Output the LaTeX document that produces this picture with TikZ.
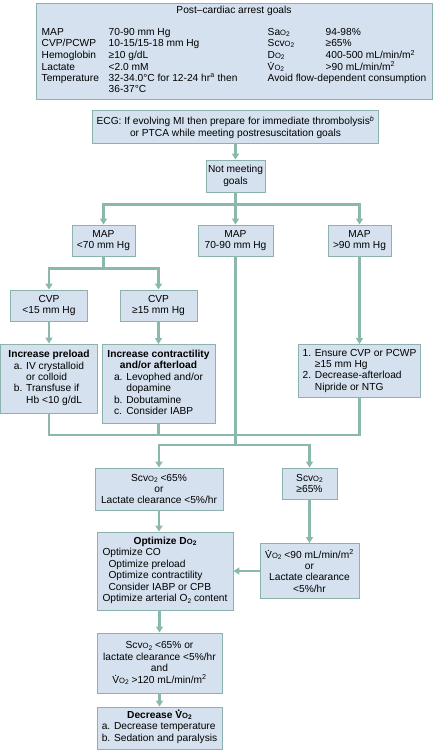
\documentclass[tikz,border=0pt]{standalone}
\usepackage{fontspec}
\setmainfont{Liberation Sans}
\usepackage{xcolor}
\usetikzlibrary{arrows.meta, calc}

\definecolor{boxfill}{RGB}{213,225,238}
\definecolor{boxedge}{RGB}{140,178,174}
\definecolor{linkteal}{RGB}{138,184,172}

\newcommand{\flowfont}{\fontsize{10.2pt}{11.4pt}\selectfont}
\newcommand{\Otwo}{{\fontsize{7.6pt}{8pt}\selectfont O\raisebox{-0.3ex}{\fontsize{6.6pt}{7pt}\selectfont 2}}}
\newcommand{\Vdot}{\mbox{\ooalign{V\cr\hidewidth\raisebox{0.68em}{.}\hidewidth\cr}}}

\tikzset{
    box/.style={draw=boxedge, fill=boxfill, line width=0.9pt, inner sep=0pt,
        align=center, font=\flowfont},
    link/.style={draw=linkteal, line width=2.2pt},
}

\begin{document}
\begin{tikzpicture}[x=1pt, y=-1pt, >={Triangle[length=6pt, width=7pt]}]

    \useasboundingbox (0,0) rectangle (434,750);

    % =================================================================
    % 1. GOALS AND ECG
    % =================================================================
    \node[box, minimum width=396pt, minimum height=96pt] (goals) at (234,51) {%
        \fontsize{10.2pt}{11pt}\selectfont
        \begin{tabular}{@{}p{67pt}@{}p{159pt}@{}p{58pt}@{}l@{}}
        \multicolumn{4}{c}{Post–cardiac arrest goals}\\[11pt]
        MAP & 70-90 mm Hg & Sa\Otwo & 94-98\%\\
        CVP/PCWP & 10-15/15-18 mm Hg & Scv\Otwo & ≥65\%\\
        Hemoglobin & ≥10 g/dL & D\Otwo & 400-500 mL/min/m\textsuperscript{2}\\
        Lactate & <2.0 mM & \Vdot\Otwo & >90 mL/min/m\textsuperscript{2}\\
        Temperature & 32-34.0°C for 12-24 hr\textsuperscript{a} then
            & \multicolumn{2}{@{}l@{}}{Avoid flow-dependent consumption}\\
        & 36-37°C & & \\
        \end{tabular}};

    \node[box, minimum width=286pt, minimum height=33pt] (ecg) at (235.5,127)
        {ECG: If evolving MI then prepare for immediate thrombolysis\textsuperscript{\itshape b}\\
         or PTCA while meeting postresuscitation goals};

    \node[box, minimum width=59pt, minimum height=32pt] (notmet) at (235.5,176)
        {Not meeting\\ goals};

    % =================================================================
    % 2. MAP AND CVP
    % =================================================================
    \node[box, minimum width=63pt, minimum height=31pt] (mapL) at (103.5,240.5) {MAP\\ <70 mm Hg};
    \node[box, minimum width=75pt, minimum height=31pt] (mapM) at (235.5,240.5) {MAP\\ 70-90 mm Hg};
    \node[box, minimum width=63pt, minimum height=31pt] (mapH) at (359.5,240.5) {MAP\\ >90 mm Hg};

    \node[box, minimum width=77pt, minimum height=31pt] (cvpL) at (49,305.5) {CVP\\ <15 mm Hg};
    \node[box, minimum width=77pt, minimum height=31pt] (cvpH) at (158.5,305.5) {CVP\\ ≥15 mm Hg};

    % =================================================================
    % 3. TREATMENT BOXES
    % =================================================================
    \node[box, minimum width=97pt, minimum height=69pt] (preload) at (49,378.5)
        {\textbf{Increase preload}\\
         \begin{tabular}[t]{@{}l@{ }l@{}}
         a. & IV crystalloid\\ & or colloid\\ b. & Transfuse if\\ & Hb <10 g/dL
         \end{tabular}};

    \node[box, minimum width=113pt, minimum height=79pt] (contract) at (158.5,384)
        {\textbf{Increase contractility}\\ \textbf{and/or afterload}\\
         \begin{tabular}[t]{@{}l@{ }l@{}}
         a. & Levophed and/or\\ & dopamine\\ b. & Dobutamine\\ c. & Consider IABP
         \end{tabular}};

    \node[box, minimum width=122pt, minimum height=53pt] (afterload) at (359.5,371)
        {\begin{tabular}[t]{@{}l@{ }l@{}}
         1. & Ensure CVP or PCWP\\ & ≥15 mm Hg\\ 2. & Decrease-afterload\\ & Nipride or NTG
         \end{tabular}};

    % =================================================================
    % 4. OXYGEN BALANCE
    % =================================================================
    \node[box, minimum width=128pt, minimum height=42pt] (scvLow) at (159,489)
        {Scv\Otwo{} <65\%\\ or\\ Lactate clearance <5\%/hr};
    \node[box, minimum width=55pt, minimum height=31pt] (scvHigh) at (309.5,483.5)
        {Scv\Otwo\\ ≥65\%};

    \node[box, minimum width=136pt, minimum height=78pt] (optdo) at (165,571)
        {\textbf{Optimize D\Otwo}\\
         \begin{tabular}[t]{@{}l@{}}
         Optimize CO\\ \hspace{6pt}Optimize preload\\ \hspace{6pt}Optimize contractility\\
         \hspace{6pt}Consider IABP or CPB\\ Optimize arterial O\raisebox{-0.3ex}{\fontsize{6.6pt}{7pt}\selectfont 2} content
         \end{tabular}};

    \node[box, minimum width=99pt, minimum height=55pt] (vodef) at (309.5,571)
        {\Vdot\Otwo{} <90 mL/min/m\textsuperscript{2}\\ or\\ Lactate clearance\\ <5\%/hr};

    \node[box, minimum width=125pt, minimum height=60pt] (recheck) at (159.5,663)
        {Scv\Otwo{} <65\% or\\ lactate clearance <5\%/hr\\ and\\
         \Vdot\Otwo{} >120 mL/min/m\textsuperscript{2}};

    \node[box, minimum width=125pt, minimum height=42pt] (decvo) at (159.5,728)
        {\textbf{Decrease \Vdot\Otwo}\\
         \begin{tabular}[t]{@{}l@{}}
         a. Decrease temperature\\ b. Sedation and paralysis
         \end{tabular}};

    % =================================================================
    % 5. CONNECTORS
    % =================================================================
    \coordinate (s1) at ($(notmet.south)+(0,12)$);
    \coordinate (s2) at ($(mapL.south)+(0,12)$);
    \coordinate (j1) at (mapM.south |- 0,435);
    \coordinate (s3) at (mapM.south |- 0,445);

    \draw[link, ->] (ecg) -- (notmet);
    \draw[link] (notmet.south) -- (s1);
    \draw[link, ->] (s1) -| (mapL.north);
    \draw[link, ->] (s1) -| (mapH.north);
    \draw[link, ->] (s1) -- (mapM.north);

    \draw[link] (mapL.south) -- (s2);
    \draw[link, ->] (s2) -| (cvpL.north);
    \draw[link, ->] (s2) -| (cvpH.north);
    \draw[link, ->] (cvpL) -- (preload);
    \draw[link, ->] (cvpH) -- (contract);
    \draw[link, ->] (mapH) -- (afterload);

    % Collecting line
    \draw[link] (preload.south) |- (afterload.south |- j1) -- (afterload.south);
    \draw[link] (contract.south) -- (contract.south |- j1);
    \draw[link] (mapM.south) -- (s3);
    \draw[link, ->] (s3) -| (scvLow.north);
    \draw[link, ->] (s3) -| (scvHigh.north);

    \draw[link, ->] (scvLow.south) -- (scvLow.south |- optdo.north);
    \draw[link, ->] (scvHigh) -- (vodef);
    \draw[link, ->] (vodef) -- (optdo);
    \draw[link, ->] (optdo.south -| recheck.north) -- (recheck.north);
    \draw[link, ->] (recheck) -- (decvo);

\end{tikzpicture}
\end{document}
